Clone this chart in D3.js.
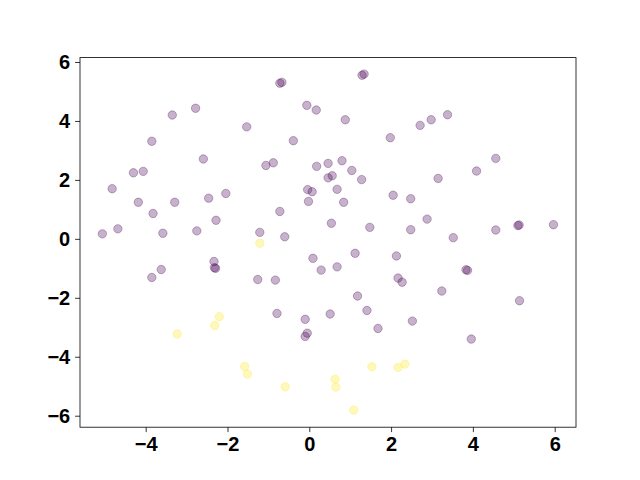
<!DOCTYPE html>
<html>
<head>
<meta charset="utf-8">
<script src="https://cdn.jsdelivr.net/npm/d3@7"></script>
<style>
  body { margin: 0; background: #fff; }
  .tick text { font-family: "Liberation Sans", Arial, sans-serif; font-weight: bold; font-size: 20px; fill: #000; }
</style>
</head>
<body>
<svg id="chart" width="640" height="480"></svg>
<script>
// group 0 (purple) points
const purpleX = [-3.35, -2.78, -1.53, -3.85, -2.59, -4.30, -4.06, -4.82, -4.18, -3.29, -2.46, -2.04, -3.82, -2.28, -5.06, -4.68, -3.58, -2.75,
  -0.72, -0.67, 1.29, 1.34, -0.06, 0.17, 0.88, -0.39, 1.98, -1.06, -0.88, 0.18, 0.46, 0.80, 1.04, 1.28, 0.46, 0.56, 0.68, -0.04, 0.07, -0.02,
  0.84, 2.05, 2.48, -0.72, 0.54, 1.48, 2.48, -1.21, -0.60, 2.71, 2.98, 3.38, 4.56, 4.09, 3.15, 2.88, 3.52, 4.56, 5.10, 5.13, 5.97,
  -2.33, -2.32, -2.29, -3.62, -3.85, 0.09, 0.29, 0.68, 1.12, 2.13, 2.17, 2.27, -1.26, -0.83, 1.18, 1.41, 1.68, -0.79, -0.10, 0.51,
  -0.10, -0.05, 2.52, 3.83, 3.87, 3.24, 5.14, 3.96];
const purpleY = [4.20, 4.43, 3.80, 3.31, 2.71, 2.24, 2.29, 1.70, 1.24, 1.24, 1.38, 1.54, 0.86, 0.63, 0.17, 0.34, 0.19, 0.27,
  5.28, 5.31, 5.55, 5.59, 4.53, 4.37, 4.04, 3.33, 3.43, 2.49, 2.58, 2.46, 2.56, 2.65, 2.32, 2.01, 2.07, 2.14, 1.68, 1.67, 1.60, 1.27,
  1.24, 1.48, 1.36, 0.93, 0.53, 0.39, 0.31, 0.22, 0.07, 3.85, 4.04, 4.21, 2.73, 2.30, 2.05, 0.67, 0.04, 0.30, 0.45, 0.47, 0.48,
  -0.77, -0.98, -1.00, -1.04, -1.31, -0.66, -1.06, -0.95, -0.49, -0.58, -1.33, -1.47, -1.38, -1.40, -1.94, -2.43, -3.04, -2.53, -2.73, -2.55,
  -3.31, -3.20, -2.79, -1.05, -1.07, -1.77, -2.10, -3.40];

// group 1 (yellow) points
const yellowX = [-1.21, -2.20, -2.31, -3.23, -1.58, -1.51, -0.59, 0.63, 0.65, 1.53, 2.17, 2.34, 1.09];
const yellowY = [-0.15, -2.64, -2.94, -3.23, -4.33, -4.59, -5.02, -4.76, -5.03, -4.34, -4.36, -4.25, -5.81];

const xTicks = [-4, -2, 0, 2, 4, 6];
const yTicks = [-6, -4, -2, 0, 2, 4, 6];

const colors = ['#440154', '#fde725'];

const svg = d3.select('#chart');
const plotLeft = 80, plotRight = 576, plotTop = 57.6, plotBottom = 427.2;

const x = d3.scaleLinear().domain([-5.606, 6.521]).range([plotLeft, plotRight]);
const y = d3.scaleLinear().domain([-6.39, 6.149]).range([plotBottom, plotTop]);

const points = [];
purpleX.forEach((v, i) => points.push({x: v, y: purpleY[i], c: 0}));
yellowX.forEach((v, i) => points.push({x: v, y: yellowY[i], c: 1}));

svg.append('g')
  .selectAll('circle')
  .data(points)
  .join('circle')
  .attr('cx', d => x(d.x))
  .attr('cy', d => y(d.y))
  .attr('r', 4.2)
  .attr('fill', d => colors[d.c])
  .attr('fill-opacity', 0.3)
  .attr('stroke', d => colors[d.c])
  .attr('stroke-opacity', 0.3)
  .attr('stroke-width', 1);

const fmt = d => d < 0 ? '\u2212' + Math.abs(d) : d;

const xAxis = svg.append('g')
  .attr('transform', `translate(0,${plotBottom})`)
  .call(d3.axisBottom(x).tickValues(xTicks).tickSize(4.9).tickPadding(4.9).tickFormat(fmt));
const yAxis = svg.append('g')
  .attr('transform', `translate(${plotLeft},0)`)
  .call(d3.axisLeft(y).tickValues(yTicks).tickSize(4.9).tickPadding(4.9).tickFormat(fmt));

[xAxis, yAxis].forEach(g => {
  g.select('.domain').remove();
  g.selectAll('.tick line').attr('stroke', '#000').attr('stroke-width', 0.8);
});

// frame
svg.append('rect')
  .attr('x', plotLeft).attr('y', plotTop)
  .attr('width', plotRight - plotLeft).attr('height', plotBottom - plotTop)
  .attr('fill', 'none').attr('stroke', '#000').attr('stroke-width', 0.8);
</script>
</body>
</html>
